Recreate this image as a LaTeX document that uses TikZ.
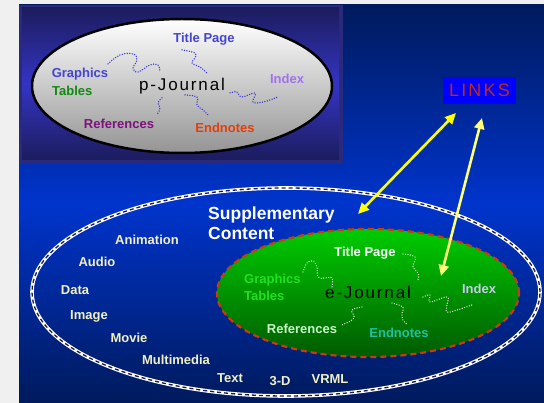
\documentclass[tikz,border=0pt]{standalone}
\usepackage{fontspec}
\setmainfont{Liberation Sans}
\newfontfamily\jfont[LetterSpace=11]{Liberation Sans}
\newfontfamily\linksfont[LetterSpace=12]{Liberation Sans}
\usetikzlibrary{arrows.meta,shapes.geometric}
\definecolor{pagegray}{HTML}{F0F0F0}
\definecolor{bgdark}{HTML}{001A5C}
\definecolor{bgmid}{HTML}{0034CC}
\definecolor{boxborder}{HTML}{2A2A7C}
\definecolor{boxdark}{HTML}{1C1C5E}
\definecolor{boxmid}{HTML}{3434C4}
\definecolor{pblue}{HTML}{4444D4}
\definecolor{pgreen}{HTML}{108A10}
\definecolor{ppurple}{HTML}{7E107E}
\definecolor{porange}{HTML}{E0400C}
\definecolor{pindex}{HTML}{A070F0}
\definecolor{squigp}{HTML}{3535D5}
\definecolor{linksred}{HTML}{C02818}
\definecolor{linksblue}{HTML}{0000FF}
\definecolor{cream}{HTML}{F2F0C4}
\definecolor{egreentop}{HTML}{00CC00}
\definecolor{egreenbot}{HTML}{005A00}
\definecolor{edash}{HTML}{CC3A10}
\definecolor{egraph}{HTML}{22E022}
\definecolor{eref}{HTML}{C8F4C8}
\definecolor{eend}{HTML}{20C0A0}
\definecolor{eindex}{HTML}{C8C8F0}
\definecolor{ringdark}{HTML}{1A1A50}
\definecolor{yel1}{HTML}{FFFF00}
\definecolor{yel2}{HTML}{FFFF78}
\tikzset{
  lbl/.style={font=\bfseries\fontsize{13}{13}\selectfont, inner sep=0pt},
  outer/.style={lbl, text=cream},
  sqp/.style={squigp, line width=1.5pt, line cap=round, dash pattern=on 0pt off 2.5pt},
  sqe/.style={white, line width=1.3pt, line cap=round, dash pattern=on 0pt off 2.5pt},
  yarrow/.style={line width=2.6pt, {Triangle[length=11pt,width=10pt]}-{Triangle[length=11pt,width=10pt]}},
}
\begin{document}
\begin{tikzpicture}[x=1pt,y=-1pt]
\useasboundingbox (0,0) rectangle (544,403);
\fill[pagegray] (0,0) rectangle (544,403);
% main background
\shade[top color=bgdark, bottom color=bgdark, middle color=bgmid] (19,5) rectangle (544,403);
% top-left box
\fill[boxborder] (19,5) rectangle (343,164);
\shade[top color=boxdark, bottom color=boxdark, middle color=boxmid] (22,8) rectangle (339,160);
% p-Journal ellipse
\node[ellipse, draw=black, line width=2.5pt, minimum width=300pt, minimum height=134pt, inner sep=0pt,
      top color=white, bottom color=black!42] (pj) at (182,86) {};
\node[inner sep=0pt, font=\jfont\fontsize{17}{17}\selectfont] (pjt) at (182,86) {p-Journal};
\node[lbl, text=pblue] (ptitle) at (204,39) {Title Page};
\node[lbl, text=pblue] (pgraph) at (80,74) {Graphics};
\node[lbl, text=pgreen, anchor=west] (ptab) at (52,91) {Tables};
\node[lbl, text=pindex] (pindex) at (287,79) {Index};
\node[lbl, text=ppurple] (pref) at (119,124) {References};
\node[lbl, text=porange] (pend) at (225,128) {Endnotes};
% p squiggles
\draw[sqp] plot[smooth, tension=0.7] coordinates {(108,64) (120,55) (133,54) (137,60) (133,68) (138,72) (150,65) (158,65) (160,72)};
\draw[sqp] plot[smooth, tension=0.7] coordinates {(182,50) (195,53) (195,58) (192,63) (200,67) (207,73)};
\draw[sqp] plot[smooth, tension=0.7] coordinates {(230,93) (237,92) (242,97) (255,93) (253,102) (263,102) (278,97)};
\draw[sqp] plot[smooth, tension=0.7] coordinates {(162,98) (158,103) (160,108) (157,115)};
\draw[sqp] plot[smooth, tension=0.7] coordinates {(185,95) (197,97) (197,105) (203,110) (208,115)};
% LINKS
\node[fill=linksblue, minimum width=73pt, minimum height=27pt, inner sep=0pt,
      text=linksred, font=\linksfont\fontsize{18}{18}\selectfont] (links) at (479.5,90.5) {LINKS};
% Supplementary ring
\node[ellipse, draw=white, line width=3.6pt, minimum width=508pt, minimum height=208pt, inner sep=0pt] (supp) at (286,292) {};
\draw[ringdark, line width=1.3pt, dash pattern=on 4pt off 3pt] (286,292) ellipse [x radius=254pt, y radius=104pt];
% green e-Journal
\node[ellipse, draw=edash, line width=2.2pt, dash pattern=on 6pt off 4pt, minimum width=302pt, minimum height=128pt, inner sep=0pt,
      top color=egreentop, bottom color=egreenbot] (ej) at (368,293) {};
\node[inner sep=0pt, font=\jfont\fontsize{17}{17}\selectfont] (ejt) at (368,292) {e-Journal};
\node[lbl, text=white] (etitle) at (365,253) {Title Page};
\node[lbl, text=egraph, anchor=west] (egraph) at (244,280) {Graphics};
\node[lbl, text=egraph, anchor=west] (etab) at (244,296) {Tables};
\node[lbl, text=eindex] (eindex) at (479,289) {Index};
\node[lbl, text=eref] (eref) at (302,329) {References};
\node[lbl, text=eend] (eend) at (399,333) {Endnotes};
% e squiggles
\draw[sqe] plot[smooth, tension=0.7] coordinates {(303,272) (307,263) (313,261) (317,267) (318,277) (325,278) (332,278) (332,287)};
\draw[sqe] plot[smooth, tension=0.7] coordinates {(403,254) (415,257) (413,267) (418,273) (418,280)};
\draw[sqe] plot[smooth, tension=0.7] coordinates {(423,297) (430,295) (430,302) (447,297) (447,305) (447,312) (457,310) (472,305)};
\draw[sqe] plot[smooth, tension=0.7] coordinates {(362,307) (352,310) (354,316) (352,320) (342,325)};
\draw[sqe] plot[smooth, tension=0.7] coordinates {(392,303) (403,307) (402,313) (403,320) (408,325)};
% Supplementary label
\node[inner sep=0pt, anchor=west, align=left, text=white, font=\bfseries\fontsize{17.5}{20}\selectfont] (supl) at (208,223) {Supplementary\\Content};
% outer items
\node[outer] (anim) at (147,240) {Animation};
\node[outer] (audio) at (97,262) {Audio};
\node[outer] (data) at (75,290) {Data};
\node[outer] (image) at (89,316) {Image};
\node[outer] (movie) at (129,338) {Movie};
\node[outer] (multi) at (176,360) {Multimedia};
\node[outer] (text) at (230,378) {Text};
\node[outer] (threed) at (280,381) {3-D};
\node[outer] (vrml) at (330,379) {VRML};
% arrows
\coordinate (a1s) at (358,214);
\coordinate (a1e) at (456,113);
\coordinate (a2s) at (441,276);
\coordinate (a2e) at (482,118);
\draw[yarrow, yel1] (a1s) -- (a1e);
\draw[yarrow, yel2] (a2s) -- (a2e);
\end{tikzpicture}
\end{document}
